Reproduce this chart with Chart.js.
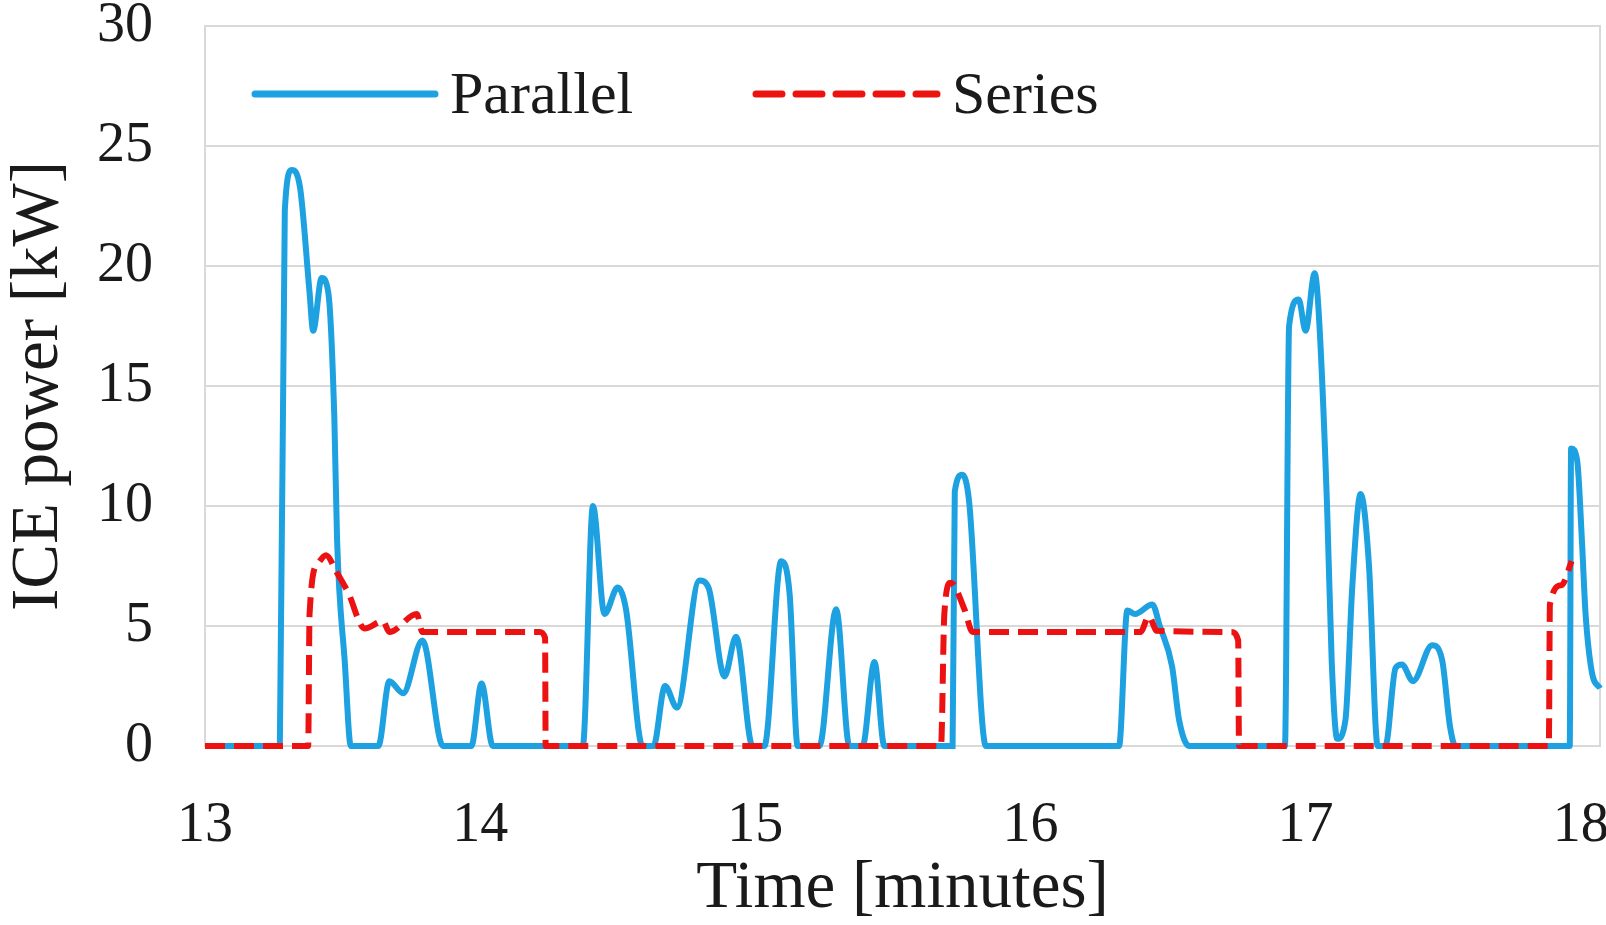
<!DOCTYPE html>
<html>
<head>
<meta charset="utf-8">
<script src="https://cdn.jsdelivr.net/npm/chart.js@4"></script>
<style>
  body { margin: 0; background: #fff; }
  #wrap { width: 1606px; height: 925px; }
</style>
</head>
<body>
<div id="wrap"><canvas id="icePowerChart" width="1606" height="925"></canvas></div>
<script>
// time in minutes, ICE power in kW
const parallelTime = [
  13.0, 13.272, 13.29, 13.315, 13.345, 13.38, 13.393, 13.424, 13.448, 13.47, 13.48, 13.508, 13.53,
  13.63, 13.67, 13.72, 13.79, 13.865, 13.968, 14.005, 14.046,
  14.373, 14.41, 14.452, 14.5, 14.53, 14.59, 14.63, 14.672, 14.715, 14.797, 14.83, 14.888, 14.93, 14.99,
  15.033, 15.094, 15.125, 15.154, 15.233, 15.294, 15.342, 15.39, 15.433, 15.469,
  15.717, 15.725, 15.752, 15.777, 15.838,
  16.322, 16.352, 16.38, 16.443, 16.47, 16.515, 16.54, 16.577,
  16.925, 16.94, 16.975, 17.0, 17.033, 17.048, 17.078, 17.095, 17.115, 17.145, 17.17, 17.2, 17.23, 17.262,
  17.29, 17.327, 17.35, 17.39, 17.46, 17.496, 17.525, 17.545,
  17.96, 17.965, 17.987, 18.005, 18.017, 18.04, 18.07
];
const parallelPower = [
  0, 0, 22.3, 24.0, 23.3, 18.9, 17.3, 19.5, 18.9, 13.7, 8.6, 3.5, 0,
  0, 2.7, 2.2, 4.4, 0, 0, 2.6, 0,
  0, 10.0, 5.5, 6.6, 5.7, 0, 0, 2.5, 1.6, 6.9, 6.6, 2.9, 4.55, 0,
  0, 7.7, 6.3, 0, 0, 5.7, 0, 0, 3.5, 0,
  0, 10.6, 11.3, 10.2, 0,
  0, 5.65, 5.5, 5.9, 5.0, 3.3, 1.1, 0,
  0, 17.5, 18.6, 17.3, 19.7, 18.0, 10.0, 3.5, 0.3, 1.1, 6.7, 10.5, 7.6, 0,
  0, 3.25, 3.4, 2.7, 4.2, 3.6, 0.8, 0,
  0, 12.4, 11.9, 8.4, 5.6, 3.1, 2.4
];
const seriesTime = [
  13.0, 13.375, 13.38, 13.41, 13.44, 13.478, 13.52, 13.58, 13.647, 13.67, 13.77, 13.79, 14.216, 14.236, 14.238,
  15.675, 15.687, 15.71, 15.76, 15.79, 16.4, 16.43, 16.46, 16.73, 16.755, 16.758,
  17.884, 17.888, 17.93, 17.967
];
const seriesPower = [
  0, 0, 5.5, 7.6, 7.95, 7.25, 6.4, 4.9, 5.2, 4.75, 5.5, 4.75, 4.75, 4.5, 0,
  0, 5.5, 6.8, 5.7, 4.75, 4.75, 5.4, 4.8, 4.75, 4.4, 0,
  0, 5.9, 6.7, 7.7
];
const seriesNames = ["Parallel", "Series"];
const xTickValues = [13, 14, 15, 16, 17, 18];

const blue = "#1da1e0";
const red = "#ec1212";
const serif = "'Liberation Serif', 'Times New Roman', serif";
const textColor = "#1a1a1a";
const gridGray = "#d9d9d9";

const toPoints = (xs, ys) => xs.map((x, i) => ({ x: x, y: ys[i] }));

// legend sits inside the plot, between the 25 and 30 gridlines
const insideLegend = {
  id: "insideLegend",
  afterDraw(chart) {
    const { ctx, chartArea } = chart;
    const y = chartArea.top + 68;
    const items = [
      { color: blue, dash: [], lineStart: 50, lineEnd: 230, textStart: 245 },
      { color: red, dash: [26, 14], lineStart: 551, lineEnd: 732, textStart: 747 },
    ];
    ctx.save();
    items.forEach((item, i) => {
      ctx.beginPath();
      ctx.lineWidth = 7;
      ctx.lineCap = "round";
      ctx.strokeStyle = item.color;
      ctx.setLineDash(item.dash);
      ctx.moveTo(chartArea.left + item.lineStart, y);
      ctx.lineTo(chartArea.left + item.lineEnd, y);
      ctx.stroke();
      ctx.setLineDash([]);
      ctx.fillStyle = textColor;
      ctx.font = "60px " + serif;
      ctx.textBaseline = "alphabetic";
      ctx.fillText(seriesNames[i], chartArea.left + item.textStart, y + 19);
    });
    ctx.restore();
  },
};

// thin gray frame round the plot area
const plotFrame = {
  id: "plotFrame",
  beforeDatasetsDraw(chart) {
    const { ctx, chartArea } = chart;
    ctx.save();
    ctx.strokeStyle = gridGray;
    ctx.lineWidth = 2;
    ctx.strokeRect(chartArea.left, chartArea.top, chartArea.right - chartArea.left, chartArea.bottom - chartArea.top);
    ctx.restore();
  },
};

const chart = new Chart(document.getElementById("icePowerChart"), {
  type: "line",
  data: {
    datasets: [
      {
        label: seriesNames[0],
        data: toPoints(parallelTime, parallelPower),
        borderColor: blue,
        borderWidth: 6,
        pointRadius: 0,
        cubicInterpolationMode: "monotone",
        clip: 8,
        order: 2,
      },
      {
        label: seriesNames[1],
        data: toPoints(seriesTime, seriesPower),
        borderColor: red,
        borderWidth: 6,
        borderDash: [20, 9],
        pointRadius: 0,
        cubicInterpolationMode: "monotone",
        clip: 8,
        order: 1,
      },
    ],
  },
  options: {
    responsive: false,
    animation: false,
    layout: { padding: { top: 26, right: 6, left: 0, bottom: 0 } },
    plugins: {
      legend: { display: false },
      tooltip: { enabled: false },
    },
    scales: {
      x: {
        type: "linear",
        min: 13,
        max: 18.07,
        afterBuildTicks: (scale) => {
          scale.ticks = xTickValues.map((v) => ({ value: v }));
        },
        afterFit: (scale) => {
          scale.height = 179;
          scale.paddingLeft = 0;
          scale.paddingRight = 0;
        },
        grid: { display: false, drawTicks: false },
        border: { display: false },
        ticks: {
          padding: 47,
          color: textColor,
          font: { family: serif, size: 56 },
        },
        title: {
          display: true,
          text: "Time [minutes]",
          color: textColor,
          font: { family: serif, size: 67, lineHeight: 1.0 },
          padding: { top: 0, bottom: 2 },
        },
      },
      y: {
        min: 0,
        max: 30,
        afterFit: (scale) => {
          scale.width = 205;
          scale.paddingTop = 0;
          scale.paddingBottom = 0;
        },
        grid: { color: gridGray, lineWidth: 2, drawTicks: false },
        border: { display: false },
        ticks: {
          stepSize: 5,
          padding: 52,
          color: textColor,
          font: { family: serif, size: 56 },
        },
        title: {
          display: true,
          text: "ICE power [kW]",
          color: textColor,
          font: { family: serif, size: 67, lineHeight: 1.0 },
          padding: { top: 6, bottom: 0 },
        },
      },
    },
  },
  plugins: [plotFrame, insideLegend],
});
</script>
</body>
</html>
